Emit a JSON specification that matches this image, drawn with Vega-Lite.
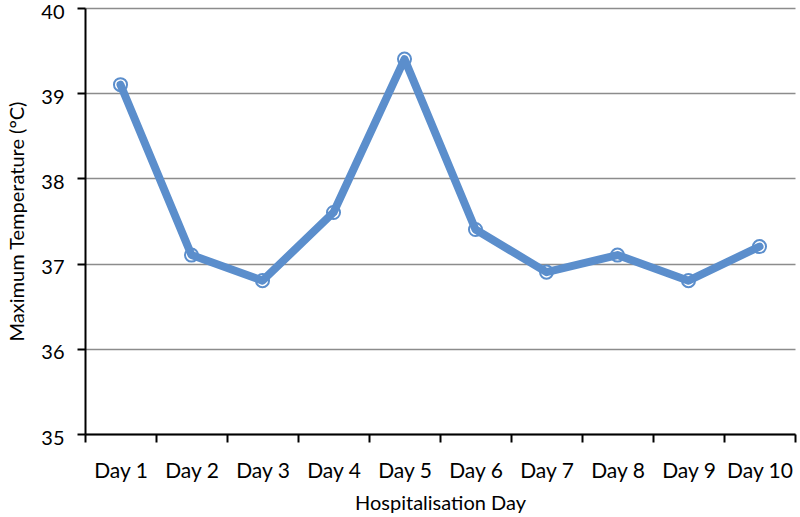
{
  "$schema": "https://vega.github.io/schema/vega-lite/v6.json",
  "width": 710,
  "height": 426,
  "autosize": "none",
  "padding": {"left": 85, "top": 8, "right": 5, "bottom": 83},
  "background": "white",
  "config": {
    "view": {"stroke": null},
    "font": "Lato",
    "axis": {"labelFont": "Lato", "titleFont": "Lato", "labelColor": "black", "titleColor": "black", "titleFontWeight": "normal"}
  },
  "data": {
    "values": [
      {"day": 1, "label": "Day 1", "temp": 39.1},
      {"day": 2, "label": "Day 2", "temp": 37.1},
      {"day": 3, "label": "Day 3", "temp": 36.8},
      {"day": 4, "label": "Day 4", "temp": 37.6},
      {"day": 5, "label": "Day 5", "temp": 39.4},
      {"day": 6, "label": "Day 6", "temp": 37.4},
      {"day": 7, "label": "Day 7", "temp": 36.9},
      {"day": 8, "label": "Day 8", "temp": 37.1},
      {"day": 9, "label": "Day 9", "temp": 36.8},
      {"day": 10, "label": "Day 10", "temp": 37.2}
    ]
  },
  "encoding": {
    "x": {
      "field": "day",
      "type": "quantitative",
      "scale": {"domain": [0.5, 10.5], "nice": false, "zero": false},
      "axis": {
        "title": "Hospitalisation Day",
        "titleFontSize": 20,
        "titlePadding": 12,
        "values": [0.5, 1, 1.5, 2, 2.5, 3, 3.5, 4, 4.5, 5, 5.5, 6, 6.5, 7, 7.5, 8, 8.5, 9, 9.5, 10, 10.5],
        "labelExpr": "datum.value % 1 === 0 ? 'Day ' + datum.value : ''",
        "tickOpacity": {"expr": "datum.value % 1 === 0 ? 0 : 1"},
        "grid": false,
        "domainColor": "black",
        "domainWidth": 2,
        "tickColor": "black",
        "tickWidth": 2,
        "tickSize": 8,
        "labelFontSize": 21,
        "labelPadding": 18,
        "labelFlush": false,
        "labelOverlap": false
      }
    },
    "y": {
      "field": "temp",
      "type": "quantitative",
      "scale": {"domain": [35, 40], "nice": false, "zero": false},
      "axis": {
        "title": "Maximum Temperature (°C)",
        "titleFontSize": 20,
        "titlePadding": 13,
        "values": [35, 36, 37, 38, 39, 40],
        "grid": true,
        "gridColor": "#8c8c8c",
        "gridWidth": 1.5,
        "domainColor": "black",
        "domainWidth": 2,
        "tickColor": "black",
        "tickWidth": 2,
        "tickSize": 8,
        "labelFontSize": 20,
        "labelPadding": 13,
        "labelOffset": 4,
        "labelFlush": false
      }
    }
  },
  "layer": [
    {
      "mark": {"type": "point", "shape": "circle", "size": 170, "filled": true, "fill": "white", "stroke": "#5B8ECC", "strokeWidth": 2, "opacity": 1}
    },
    {
      "mark": {"type": "line", "color": "#5B8ECC", "strokeWidth": 8, "strokeJoin": "round", "strokeCap": "round"}
    }
  ]
}
